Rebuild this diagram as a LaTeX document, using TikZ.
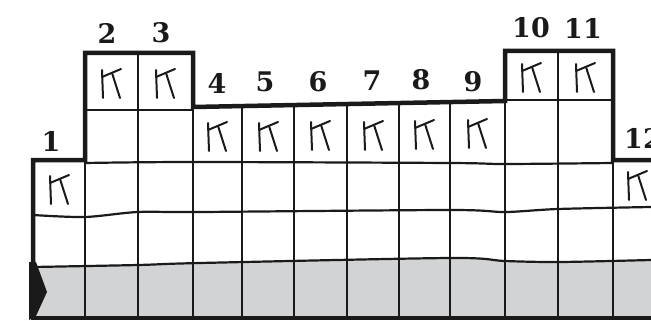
\documentclass[tikz,border=0pt]{standalone}
\usepackage{fontspec}
\newfontfamily\numfont{DejaVu Serif}
\usetikzlibrary{arrows.meta,positioning}
\definecolor{ink}{HTML}{1A1A1A}
\definecolor{hull}{HTML}{D1D3D4}
\begin{document}
\begin{tikzpicture}[x=1pt,y=-1pt,
  outline/.style={ink,line width=4.5pt,line join=miter},
  gridline/.style={ink,line width=2.2pt},
  glyph/.style={ink,line width=2pt,line cap=round},
  seatno/.style={font=\numfont\bfseries\fontsize{27}{27}\selectfont,ink,inner sep=0pt}]
  \useasboundingbox (0,0) rectangle (651,321);

  % Grey bottom band
  \fill[hull] plot[smooth] coordinates {(33,267) (138,265) (200,263) (450,258) (505,261) (560,262) (651,260)}
    -- (651,318) -- (33,318) -- cycle;
  \draw[gridline] plot[smooth] coordinates {(33,267) (138,265) (200,263) (450,258) (505,261) (560,262) (651,260)};

  % Row lines
  \draw[gridline] plot[smooth] coordinates {(33,215) (85,217) (138,212) (200,212) (450,210) (505,212) (558,209) (651,207)};
  \draw[gridline] plot[smooth] coordinates {(85,163) (193,162) (450,163) (505,164) (613,163)};
  \draw[gridline] (85,110) -- (193,110);
  \draw[gridline] (505,100) -- (613,100);

  % Column lines
  \draw[gridline] (85,160) -- (85,318);
  \draw[gridline] (138,53) -- (138,318);
  \draw[gridline] (193,107) -- (193,318);
  \foreach \cx in {242,294,347,399,450} {
    \pgfmathsetmacro{\ytop}{107-(\cx-193)*6/312}
    \draw[gridline] (\cx,\ytop) -- (\cx,318);
  }
  \draw[gridline] (505,101) -- (505,318);
  \draw[gridline] (558,51) -- (558,318);
  \draw[gridline] (613,160) -- (613,318);

  % Outline
  \draw[outline] (33,318) -- (33,160) -- (85,160) -- (85,53) -- (193,53) -- (193,107)
    -- (505,101) -- (505,51) -- (613,51) -- (613,160) -- (653,160);
  \draw[outline] (31,318) -- (653,318);
  \fill[ink] (29,262) -- (36,262) -- (47,292) -- (36,316) -- (29,320) -- cycle;

  % K marks
  \foreach \cx/\cy in {59/188, 111/82, 165/82, 217/135, 268/135, 320/134, 373/134,
                       424/133, 477/132, 531/76, 585/76, 637/184} {
    \draw[glyph] (\cx-9,\cy-12) -- (\cx-8,\cy+16);
    \draw[glyph] (\cx-9,\cy-5) -- (\cx+10,\cy-13);
    \draw[glyph] (\cx+1,\cy-9) -- (\cx+9,\cy+16);
  }

  % Seat numbers
  \foreach \n/\cx/\cy in {1/51/141, 2/107/33, 3/161/33, 4/217/83, 5/265/82, 6/318/82,
                          7/372/81, 8/421/80, 9/473/82, 10/531/28, 11/583/28, 12/643/138} {
    \node[seatno] (s\n) at (\cx,\cy) {\n};
  }
\end{tikzpicture}
\end{document}
